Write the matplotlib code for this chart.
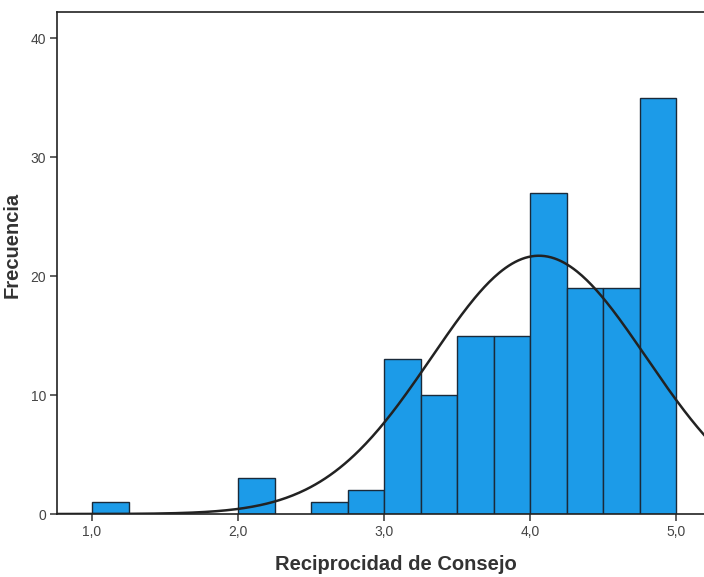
import numpy as np
import matplotlib
matplotlib.use("Agg")
import matplotlib.pyplot as plt

# Data
bin_left = [1.0, 2.0, 2.5, 2.75, 3.0, 3.25, 3.5, 3.75, 4.0, 4.25, 4.5, 4.75]
counts = [1, 3, 1, 2, 13, 10, 15, 15, 27, 19, 19, 35]
bin_width = 0.25
x_ticks = [1.0, 2.0, 3.0, 4.0, 5.0]
x_tick_labels = ["1,0", "2,0", "3,0", "4,0", "5,0"]
y_ticks = [0, 10, 20, 30, 40]
fit_mean = 4.06
fit_sd = 0.735

plt.rcParams['font.family'] = ['Liberation Sans', 'DejaVu Sans']

fig = plt.figure(figsize=(7.04, 5.77), dpi=100)
ax = fig.add_axes([57/704, 63/577, 1 - 57/704 + 0.002, (514-12)/577])

ax.bar(bin_left, counts, width=bin_width, align='edge', color='#1c9be8',
       edgecolor='#1a2a3a', linewidth=1.0, zorder=2)

n = sum(counts)
xs = np.linspace(0.76, 5.2, 400)
ys = n * bin_width / (fit_sd * np.sqrt(2 * np.pi)) * np.exp(-0.5 * ((xs - fit_mean) / fit_sd) ** 2)
ax.plot(xs, ys, color='#222222', lw=1.8, zorder=3)

ax.set_xlim(0.76, 5.2)
ax.set_ylim(0, 42.2)
ax.set_xticks(x_ticks)
ax.set_xticklabels(x_tick_labels)
ax.set_yticks(y_ticks)
ax.tick_params(axis='both', direction='out', length=5, width=1.2, labelsize=10, colors='#444444', pad=3)
for s in ['left', 'bottom', 'top']:
    ax.spines[s].set_linewidth(1.2)
    ax.spines[s].set_color('#222222')
ax.spines['right'].set_visible(False)

ax.set_xlabel("Reciprocidad de Consejo", fontsize=14.5, fontweight='bold', color='#333333')
ax.xaxis.set_label_coords(0.522, -0.082)
ax.set_ylabel("Frecuencia", fontsize=14.5, fontweight='bold', color='#333333')
ax.yaxis.set_label_coords(-0.055, 0.535)

fig.savefig("out.png", dpi=100)
